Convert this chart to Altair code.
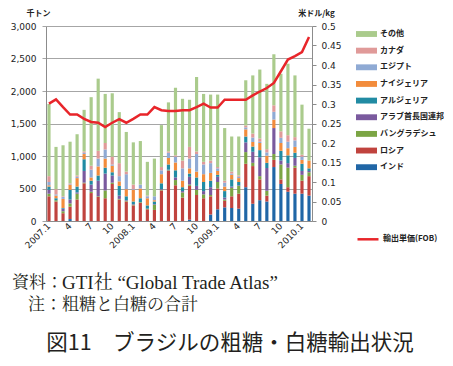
import altair as alt
import pandas as pd

months = ["2007.1", "2007.2", "2007.3", "2007.4", "2007.5", "2007.6", "2007.7", "2007.8", "2007.9", "2007.10", "2007.11", "2007.12",
          "2008.1", "2008.2", "2008.3", "2008.4", "2008.5", "2008.6", "2008.7", "2008.8", "2008.9", "2008.10", "2008.11", "2008.12",
          "2009.1", "2009.2", "2009.3", "2009.4", "2009.5", "2009.6", "2009.7", "2009.8", "2009.9", "2009.10", "2009.11", "2009.12",
          "2010.1", "2010.2"]
tick_months = ["2007.1", "2007.4", "2007.7", "2007.10", "2008.1", "2008.4", "2008.7", "2008.10",
               "2009.1", "2009.4", "2009.7", "2009.10", "2010.1"]

india = [0, 0, 0, 30, 0, 0, 0, 0, 0, 0, 0, 0, 0, 0, 0, 0, 0, 0, 0, 0,
         20, 0, 0, 100, 180, 210, 200, 190, 520, 265, 320, 300, 830, 570, 450, 420, 420, 390]
russia = [380, 300, 120, 190, 330, 580, 430, 370, 350, 570, 330, 300, 240, 280, 180, 170, 470, 770, 550, 360,
          520, 400, 350, 280, 320, 100, 180, 230, 360, 580, 320, 90, 110, 70, 70, 400, 200, 300]
bangladesh = [40, 20, 30, 50, 90, 10, 20, 10, 120, 20, 10, 10, 10, 10, 10, 80, 10, 10, 80, 80,
              20, 80, 60, 20, 100, 20, 130, 120, 180, 50, 50, 75, 90, 230, 300, 30, 90, 60]
uae = [60, 0, 40, 60, 20, 180, 110, 240, 260, 110, 50, 10, 10, 0, 0, 10, 10, 10, 40, 20,
       120, 60, 50, 120, 80, 30, 20, 10, 150, 170, 290, 350, 400, 60, 70, 120, 60, 20]
algeria = [50, 30, 10, 150, 90, 180, 60, 80, 90, 50, 150, 60, 40, 60, 50, 40, 90, 80, 110, 60,
           50, 130, 140, 100, 30, 100, 110, 50, 90, 80, 110, 80, 0, 150, 120, 80, 110, 40]
nigeria = [20, 40, 140, 80, 130, 80, 50, 140, 140, 100, 70, 110, 180, 150, 110, 20, 140, 100, 120, 100,
           80, 90, 120, 120, 60, 70, 70, 60, 110, 70, 110, 110, 130, 120, 110, 90, 60, 120]
egypt = [50, 20, 30, 10, 20, 20, 120, 120, 140, 20, 80, 230, 10, 60, 30, 60, 60, 80, 90, 190,
         150, 270, 150, 150, 40, 60, 20, 20, 30, 70, 20, 50, 120, 80, 100, 100, 50, 0]
canada = [90, 80, 10, 10, 20, 20, 60, 120, 100, 120, 200, 40, 70, 0, 10, 0, 50, 20, 20, 120,
          180, 40, 40, 40, 20, 30, 30, 20, 30, 60, 50, 50, 100, 100, 100, 50, 30, 0]
other = [1110, 650, 785, 640, 635, 640, 1055, 1110, 755, 975, 785, 610, 650, 670, 520, 580, 645, 755, 1040, 950,
         725, 1145, 1045, 1015, 1115, 810, 540, 600, 695, 895, 1060, 1005, 785, 885, 1100, 950, 770, 490]
price = [0.301, 0.312, 0.292, 0.273, 0.273, 0.262, 0.254, 0.252, 0.241, 0.252, 0.261, 0.252, 0.262, 0.273,
         0.273, 0.292, 0.284, 0.282, 0.282, 0.284, 0.284, 0.292, 0.301, 0.291, 0.291, 0.311, 0.311, 0.311,
         0.311, 0.322, 0.332, 0.341, 0.354, 0.384, 0.414, 0.423, 0.433, 0.472]

countries = ["インド", "ロシア", "バングラデシュ", "アラブ首長国連邦", "アルジェリア", "ナイジェリア", "エジプト", "カナダ", "その他"]
series = [india, russia, bangladesh, uae, algeria, nigeria, egypt, canada, other]
colors = ["#2066A6", "#C0433E", "#7BA544", "#7A5A9E", "#218BA3", "#F28C3C", "#8FAAD4", "#E09A99", "#AACB8C"]
line_name = "輸出単価(FOB)"

note1a = "資料："
note1b = "GTI社 “Global Trade Atlas”"
note2 = "注：粗糖と白糖の合計"
fig_title = "図11　ブラジルの粗糖・白糖輸出状況"

rows = []
for ci, (name, vals) in enumerate(zip(countries, series)):
    for m, v in zip(months, vals):
        rows.append({"month": m, "country": name, "value": v, "order": ci})
bars_df = pd.DataFrame(rows)
line_df = pd.DataFrame({"month": months, "price": price, "series": [line_name] * len(months)})

JP = "Noto Sans CJK JP"
SERIF = "Liberation Serif, Noto Serif CJK JP, Noto Sans CJK JP"

x_enc = alt.X(
    "month:N", sort=months,
    scale=alt.Scale(paddingInner=0.55, paddingOuter=0.2),
    axis=alt.Axis(values=tick_months,
                  labelExpr="split(datum.value, '.')[1] == '1' ? datum.value : split(datum.value, '.')[1]",
                  labelAngle=-45, labelAlign="right", labelBaseline="middle",
                  labelFont="DejaVu Sans", labelFontSize=9, labelColor="#222222", labelPadding=3,
                  ticks=False, title=None, domainColor="#8C8C8C", grid=False),
)

bars = alt.Chart(bars_df).mark_bar().encode(
    x=x_enc,
    y=alt.Y("value:Q", stack="zero", scale=alt.Scale(domain=[0, 3000]),
            axis=alt.Axis(values=[0, 500, 1000, 1500, 2000, 2500, 3000], format=",.0f",
                          title="千トン", titleAngle=0, titleX=-8, titleY=-13,
                          titleAlign="center", titleBaseline="middle",
                          titleFont=JP, titleFontSize=8, titleFontWeight="bold", titleColor="#222222",
                          grid=True, gridColor="#A6A6A6", tickSize=4, tickColor="#A6A6A6",
                          domainColor="#8C8C8C", labelFont="DejaVu Sans", labelFontSize=9,
                          labelColor="#222222", labelPadding=6)),
    color=alt.Color("country:N", scale=alt.Scale(domain=countries[::-1], range=colors[::-1]),
                    legend=alt.Legend(title=None, orient="none", legendX=310, legendY=-2.5,
                                      symbolType="M-1,-0.28H1V0.28H-1Z", symbolSize=441,
                                      symbolStrokeWidth=0, labelFont=JP, labelFontSize=8,
                                      labelFontWeight="bold", labelColor="#222222",
                                      labelOffset=3, rowPadding=1.65)),
    order=alt.Order("order:Q", sort="ascending"),
)

line = alt.Chart(line_df).mark_line(strokeWidth=2.5).encode(
    x=x_enc,
    y=alt.Y("price:Q", scale=alt.Scale(domain=[0, 0.5]),
            axis=alt.Axis(orient="right", values=[0, 0.05, 0.1, 0.15, 0.2, 0.25, 0.3, 0.35, 0.4, 0.45, 0.5],
                          format=".2~f", title="米ドル/kg", titleAngle=0, titleX=4, titleY=-13,
                          titleAlign="center", titleBaseline="middle",
                          titleFont=JP, titleFontSize=8, titleFontWeight="bold", titleColor="#222222",
                          grid=False, tickSize=4, tickColor="#8C8C8C", domainColor="#8C8C8C",
                          labelFont="DejaVu Sans", labelFontSize=9, labelColor="#222222", labelPadding=5)),
    stroke=alt.Stroke("series:N", scale=alt.Scale(domain=[line_name], range=["#E8252A"]),
                      legend=alt.Legend(title=None, orient="none", legendX=310, legendY=201.3,
                                        symbolType="stroke", symbolSize=441, symbolStrokeWidth=2.5,
                                        labelFont=JP, labelFontSize=8, labelFontWeight="bold",
                                        labelColor="#222222", labelOffset=3)),
)

t1a = alt.Chart(pd.DataFrame({"t": [note1a]})).mark_text(
    align="left", baseline="middle", font=SERIF, fontSize=17, color="#231F20"
).encode(text="t:N", x=alt.value(-34), y=alt.value(256.5))
t1b = alt.Chart(pd.DataFrame({"t": [note1b]})).mark_text(
    align="left", baseline="middle", font=SERIF, fontSize=19, color="#231F20"
).encode(text="t:N", x=alt.value(16), y=alt.value(256.5))
t2 = alt.Chart(pd.DataFrame({"t": [note2]})).mark_text(
    align="left", baseline="middle", font=SERIF, fontSize=17, color="#231F20"
).encode(text="t:N", x=alt.value(-18), y=alt.value(278.5))
t3 = alt.Chart(pd.DataFrame({"t": [fig_title]})).mark_text(
    align="left", baseline="middle", font=JP, fontSize=21.5, color="#231F20"
).encode(text="t:N", x=alt.value(0.2), y=alt.value(318))

chart = alt.layer(bars, line, t1a, t1b, t2, t3).resolve_scale(
    y="independent", color="independent"
).properties(
    width=266, height=195, padding={"left": 2, "top": 1, "right": 0, "bottom": 6}, background="white"
).configure_view(stroke=None)

chart.save("out.html", embed_options={"renderer": "svg", "actions": False})
